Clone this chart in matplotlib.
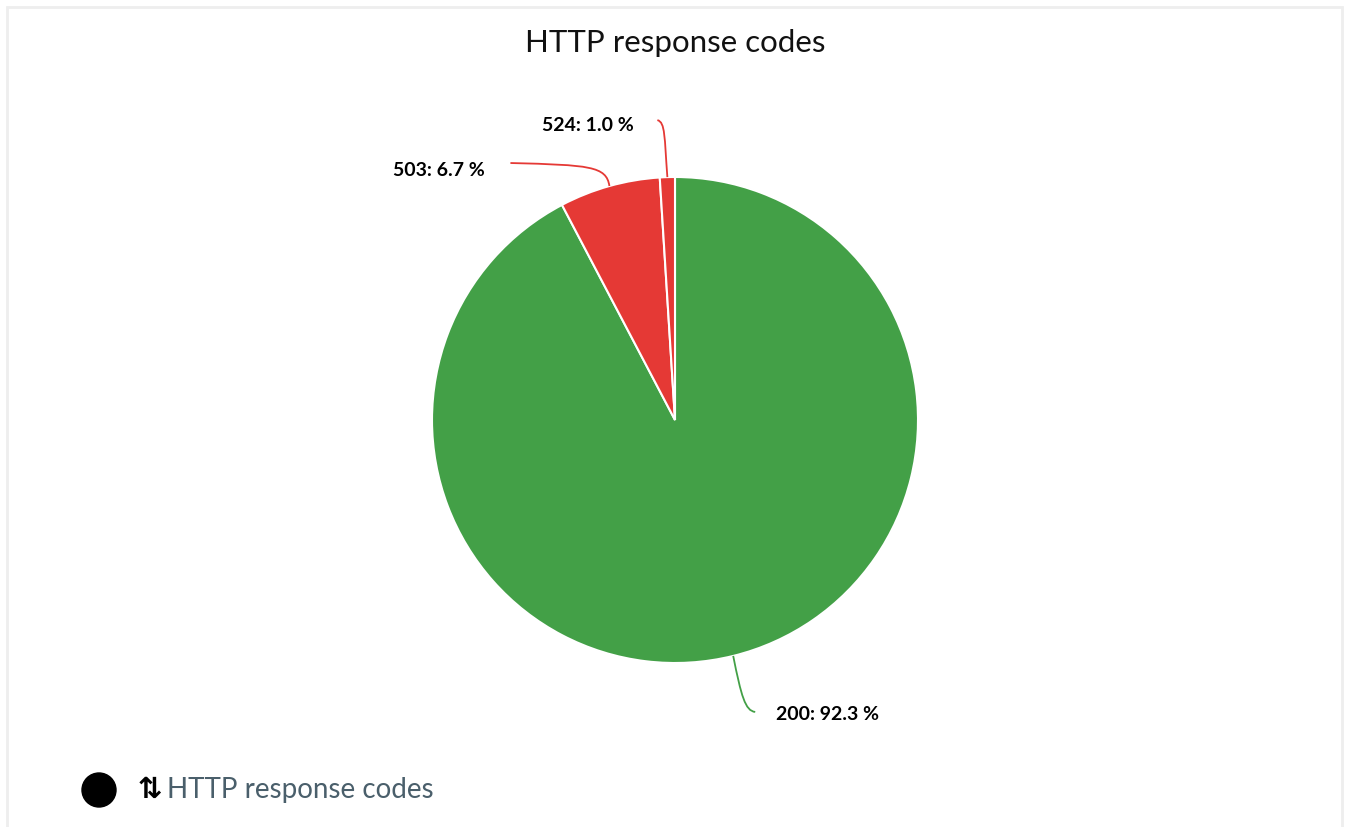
import numpy as np
import matplotlib.pyplot as plt
from matplotlib.path import Path
from matplotlib.patches import PathPatch, Circle, Rectangle

# data
codes = ['200', '503', '524']
shares = [92.3, 6.7, 1.0]
colors = ['#43a047', '#e53935', '#e53935']
title = 'HTTP response codes'

W, H = 1347, 827
fig = plt.figure(figsize=(W / 100, H / 100), dpi=100)
ax = fig.add_axes([0, 0, 1, 1])

plt.rcParams['font.family'] = ['Lato', 'DejaVu Sans']

# frame
ax.add_patch(Rectangle((7, -10), 1335, (H - 7) + 10, fill=False,
                       edgecolor='#eeeeee', linewidth=2))

cx, cy, r = 675, H - 420, 243
wedges, _ = ax.pie(shares, colors=colors, startangle=90, counterclock=False,
                   center=(cx, cy), radius=r, frame=True,
                   wedgeprops=dict(edgecolor='white', linewidth=1.5))
ax.set_xlim(0, W)
ax.set_ylim(0, H)
ax.set_aspect('equal')
ax.axis('off')

# labels with curved leader lines
cum = np.cumsum([0] + shares[:-1])
for code, s, c0, col in zip(codes, shares, cum, colors):
    ang = np.deg2rad(90 - (c0 + s / 2) / 100 * 360)
    x0, y0 = cx + r * np.cos(ang), cy + r * np.sin(ang)
    if code == '200':
        pts = [(x0, y0), (x0 + 8, y0 - 40), (x0 + 12, y0 - 55), (x0 + 22, y0 - 56)]
        tx, ty, ha = x0 + 43, y0 - 59, 'left'
    elif code == '503':
        pts = [(x0, y0), (x0 - 3, y0 + 20), (x0 - 20, y0 + 21), (x0 - 99, y0 + 23)]
        tx, ty, ha = x0 - 125, y0 + 16, 'right'
    else:
        pts = [(x0, y0), (x0 - 3, y0 + 40), (x0 - 2, y0 + 55), (x0 - 10, y0 + 57)]
        tx, ty, ha = x0 - 34, y0 + 52, 'right'
    path = Path(pts, [Path.MOVETO, Path.CURVE4, Path.CURVE4, Path.CURVE4])
    ax.add_patch(PathPatch(path, fill=False, edgecolor=col, linewidth=1.3))
    ax.text(tx, ty, f'{code}: {s:.1f} %', ha=ha, va='center',
            fontsize=14, fontweight='bold', color='black')

ax.text(cx, H - 43, title, ha='center', va='center', fontsize=22.5, color='#111111')

# legend
ax.add_patch(Circle((99, H - 790), 17, color='black'))
ax.text(150, H - 790, '\u21c5', ha='center', va='center', fontsize=21,
        fontweight='bold', color='black', family='DejaVu Sans')
ax.text(167, H - 790, title, ha='left', va='center', fontsize=20, color='#4a5f6b')

fig.savefig('out.png', dpi=100)
